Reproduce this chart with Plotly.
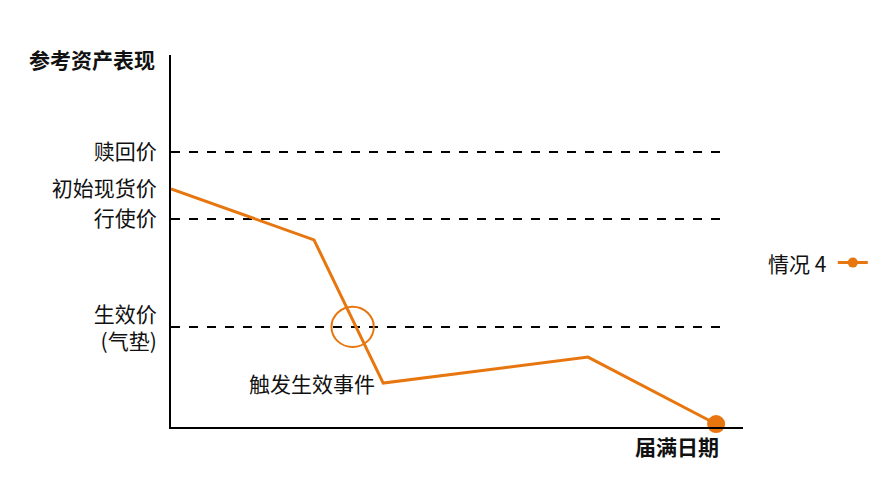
import plotly.graph_objects as go

# path of the underlying asset, x = time (0..100 to maturity), y = price level
time_pts = [0, 25, 37.1, 72.9, 95.3]
price_pts = [64.0, 50.3, 11.8, 18.8, 0.8]

# reference levels (dashed lines)
level_names = ["赎回价", "初始现货价", "行使价", "生效价<br>(气垫)"]
level_vals = [73.9, 64.0, 55.9, 26.6]
dashed_levels = [73.9, 55.9, 26.9]
dash_end = 96

series_name = "情况 4"
trigger_text = "触发生效事件"
y_title = "参考资产表现"
x_title = "届满日期"

ORANGE = "#E8760F"
FONT = "Noto Sans CJK SC"
TXT = "#111111"
FS = 21

fig = go.Figure()

for lv in dashed_levels:
    fig.add_trace(go.Scatter(x=[0, dash_end], y=[lv, lv], mode="lines",
                             line=dict(color="black", width=2, dash="dash"),
                             showlegend=False, hoverinfo="skip"))

fig.add_trace(go.Scatter(x=time_pts, y=price_pts, mode="lines",
                         line=dict(color=ORANGE, width=3),
                         showlegend=False, cliponaxis=False))
# marker at maturity
fig.add_trace(go.Scatter(x=time_pts[-1:], y=price_pts[-1:], mode="markers",
                         marker=dict(color=ORANGE, size=18),
                         showlegend=False, cliponaxis=False))
# legend entry only (text drawn as annotation to put symbol on the right)
fig.add_trace(go.Scatter(x=[None], y=[None], mode="lines+markers", name="",
                         line=dict(color=ORANGE, width=3),
                         marker=dict(color=ORANGE, size=10)))

# circle where the path crosses the trigger level
trig = dashed_levels[-1]
x1, y1, x2, y2 = time_pts[1], price_pts[1], time_pts[2], price_pts[2]
cx = x1 + (y1 - trig) / (y1 - y2) * (x2 - x1) - 0.6
rx, ry = 3.7, 5.4
fig.add_shape(type="circle", x0=cx - rx, x1=cx + rx, y0=trig - ry, y1=trig + ry,
              line=dict(color=ORANGE, width=2))

fig.add_annotation(x=time_pts[2], y=price_pts[2], text=trigger_text, showarrow=False,
                   xanchor="right", yanchor="middle", xshift=-6,
                   font=dict(family=FONT, size=FS, color=TXT))
fig.add_annotation(xref="paper", yref="paper", x=-0.0245, y=0.99, text="<b>" + y_title + "</b>",
                   showarrow=False, xanchor="right", yanchor="middle",
                   font=dict(family=FONT, size=FS, color=TXT))
fig.add_annotation(xref="paper", yref="paper", x=0.961, y=0, yshift=-2, text="<b>" + x_title + "</b>",
                   showarrow=False, xanchor="right", yanchor="top",
                   font=dict(family=FONT, size=FS, color=TXT))
fig.add_annotation(xref="paper", yref="paper", x=1.148, y=0.441, text=series_name,
                   showarrow=False, xanchor="right", yanchor="middle",
                   font=dict(family=FONT, size=FS, color=TXT))

fig.update_layout(
    width=889, height=500,
    margin=dict(l=163, r=154, t=47, b=81),
    plot_bgcolor="white", paper_bgcolor="white",
    font=dict(family=FONT, size=FS, color=TXT),
    legend=dict(x=1.157, y=0.441, xanchor="left", yanchor="middle",
                bgcolor="rgba(0,0,0,0)", borderwidth=0),
    xaxis=dict(range=[0, 100], showgrid=False, zeroline=False, showticklabels=False,
               showline=True, linecolor="black", linewidth=2, fixedrange=True),
    yaxis=dict(range=[0, 100], showgrid=False, zeroline=False,
               tickvals=level_vals, ticktext=level_names, ticks="",
               ticklabelstandoff=8,
               showline=True, linecolor="black", linewidth=2, fixedrange=True),
)

fig.write_html("out.html")
